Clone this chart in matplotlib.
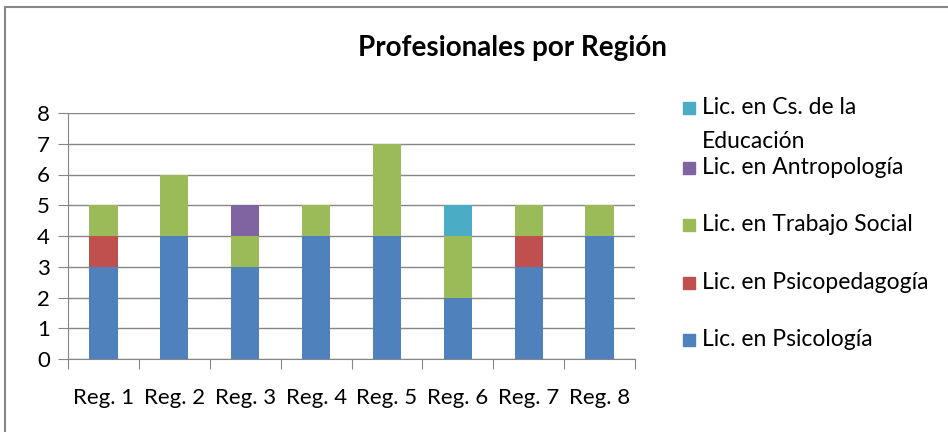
import matplotlib
matplotlib.use("Agg")
import matplotlib.pyplot as plt
from matplotlib.patches import Rectangle
import numpy as np

plt.rcParams['font.family'] = ['Lato', 'DejaVu Sans']

regions = ["Reg. 1", "Reg. 2", "Reg. 3", "Reg. 4", "Reg. 5", "Reg. 6", "Reg. 7", "Reg. 8"]
psicologia = [3, 4, 3, 4, 4, 2, 3, 4]
psicopedagogia = [1, 0, 0, 0, 0, 0, 1, 0]
trabajo_social = [1, 2, 1, 1, 3, 2, 1, 1]
antropologia = [0, 0, 1, 0, 0, 0, 0, 0]
cs_educacion = [0, 0, 0, 0, 0, 1, 0, 0]

series = [
    ("Lic. en Psicología", psicologia, "#4F81BD"),
    ("Lic. en Psicopedagogía", psicopedagogia, "#C0504D"),
    ("Lic. en Trabajo Social", trabajo_social, "#9BBB59"),
    ("Lic. en Antropología", antropologia, "#8064A2"),
    ("Lic. en Cs. de la\nEducación", cs_educacion, "#4BACC6"),
]

W, H = 948, 432
fig = plt.figure(figsize=(W / 100, H / 100), dpi=100)
ax = fig.add_axes([68 / W, 1 - 359 / H, (635 - 68) / W, (359 - 113) / H])

x = np.arange(len(regions))
bottom = np.zeros(len(regions))
for name, vals, col in series:
    v = np.array(vals, dtype=float)
    ax.bar(x, v, width=0.4, bottom=bottom, color=col, zorder=3, linewidth=0)
    bottom += v

grid_col = "#868686"
ax.set_xlim(-0.5, len(regions) - 0.5)
ax.set_ylim(0, 8)
ax.set_yticks(range(0, 9))
ax.yaxis.grid(True, color=grid_col, linewidth=1, zorder=0)
ax.set_axisbelow(True)
for s in ["top", "right"]:
    ax.spines[s].set_visible(False)
ax.spines["left"].set_color(grid_col)
ax.spines["bottom"].set_color(grid_col)
ax.tick_params(axis="y", length=7, color=grid_col, labelsize=16, pad=6)
ax.set_xticks(np.arange(-0.5, len(regions), 1.0))
ax.set_xticklabels([])
ax.set_xticks(x, minor=True)
ax.set_xticklabels(regions, minor=True)
ax.tick_params(axis="x", which="major", length=7, color=grid_col)
ax.tick_params(axis="x", which="minor", length=0, labelsize=16, pad=21)

fig.text(512 / W, 1 - 48 / H, "Profesionales por Región", ha="center", va="center",
         fontsize=20, fontweight="bold")

# legend (reversed order, as in reference)
legend_y = [108, 168, 225, 283, 340]
for (name, vals, col), yy in zip(reversed(series), legend_y):
    fig.patches.append(Rectangle((683 / W, 1 - (yy + 6) / H), 12 / W, 12 / H,
                                 transform=fig.transFigure, color=col, figure=fig))
    fig.text(702 / W, 1 - (yy - 11) / H, name, ha="left", va="top", fontsize=16.5,
             linespacing=1.75)

# outer border
fig.patches.append(Rectangle((5 / W, -0.05), 1.1, 1 - 7 / H + 0.05, transform=fig.transFigure,
                             fill=False, edgecolor=grid_col, linewidth=1.5, figure=fig))

fig.savefig("out.png", dpi=100)
